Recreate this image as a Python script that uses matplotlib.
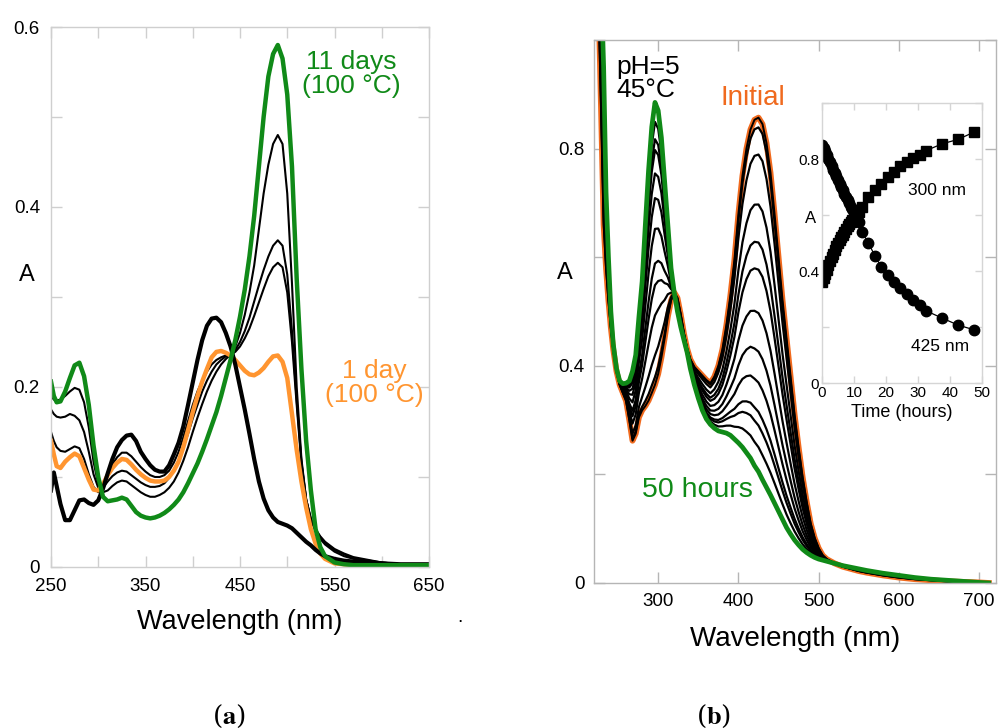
import numpy as np
import matplotlib
matplotlib.use('Agg')
import matplotlib.pyplot as plt

plt.rcParams['font.family'] = ['Liberation Sans', 'DejaVu Sans']
plt.rcParams['mathtext.fontset'] = 'stix'

# ---- panel (a): spectra after heating at 100 C ----
wl_a = [250, 253, 256, 260, 265, 270, 275, 280, 285, 290, 295, 300, 305, 310, 315, 320, 325, 330, 335, 340,
        345, 350, 355, 360, 365, 370, 375, 380, 385, 390, 395, 400, 405, 410, 415, 420, 425, 430, 435, 440,
        445, 450, 455, 460, 465, 470, 475, 480, 485, 490, 495, 500, 505, 510, 515, 520, 525, 530, 535, 540,
        550, 560, 570, 580, 600, 620, 650]
a_start = [0.085, 0.105, 0.09, 0.07, 0.052, 0.052, 0.063, 0.074, 0.075, 0.071, 0.069, 0.074, 0.087, 0.104, 0.12, 0.133, 0.141, 0.146, 0.147, 0.14,
           0.128, 0.12, 0.113, 0.108, 0.106, 0.106, 0.113, 0.125, 0.138, 0.156, 0.18, 0.205, 0.23, 0.252, 0.268, 0.276, 0.277, 0.272, 0.26, 0.245,
           0.225, 0.2, 0.175, 0.148, 0.12, 0.095, 0.076, 0.063, 0.055, 0.05, 0.048, 0.046, 0.043, 0.038, 0.033, 0.028, 0.024, 0.019, 0.015, 0.012,
           0.009, 0.007, 0.006, 0.005, 0.004, 0.003, 0.003]
a_1day = [0.14, 0.125, 0.112, 0.11, 0.117, 0.122, 0.126, 0.123, 0.11, 0.097, 0.086, 0.085, 0.092, 0.102, 0.11, 0.116, 0.12, 0.119, 0.114, 0.108,
          0.103, 0.099, 0.096, 0.095, 0.095, 0.096, 0.1, 0.107, 0.117, 0.133, 0.152, 0.172, 0.19, 0.206, 0.22, 0.233, 0.239, 0.24, 0.238, 0.235,
          0.23, 0.224, 0.218, 0.214, 0.213, 0.216, 0.221, 0.228, 0.234, 0.235, 0.228, 0.21, 0.17, 0.13, 0.095, 0.066, 0.042, 0.026, 0.015, 0.009,
          0.004, 0.003, 0.002, 0.002, 0.002, 0.002, 0.002]
a_t1 = [0.19, 0.186, 0.185, 0.186, 0.19, 0.195, 0.199, 0.197, 0.183, 0.155, 0.117, 0.092, 0.083, 0.085, 0.09, 0.094, 0.096, 0.095, 0.091, 0.087,
        0.083, 0.08, 0.078, 0.078, 0.08, 0.083, 0.088, 0.095, 0.105, 0.118, 0.133, 0.15, 0.166, 0.181, 0.195, 0.207, 0.217, 0.225, 0.231, 0.236,
        0.245, 0.26, 0.28, 0.305, 0.335, 0.375, 0.415, 0.447, 0.47, 0.48, 0.47, 0.415, 0.315, 0.2, 0.12, 0.075, 0.052, 0.04, 0.031, 0.025,
        0.017, 0.012, 0.009, 0.007, 0.004, 0.003, 0.002]
a_t2 = [0.175, 0.17, 0.167, 0.166, 0.167, 0.17, 0.168, 0.163, 0.15, 0.128, 0.103, 0.088, 0.088, 0.095, 0.101, 0.105, 0.107, 0.106, 0.102, 0.098,
        0.094, 0.091, 0.089, 0.089, 0.09, 0.093, 0.099, 0.107, 0.118, 0.132, 0.148, 0.165, 0.18, 0.195, 0.207, 0.217, 0.225, 0.23, 0.234, 0.236,
        0.241, 0.25, 0.262, 0.277, 0.295, 0.313, 0.33, 0.345, 0.357, 0.363, 0.357, 0.325, 0.262, 0.185, 0.117, 0.075, 0.053, 0.041, 0.033, 0.027,
        0.019, 0.014, 0.01, 0.008, 0.005, 0.003, 0.002]
a_t3 = [0.15, 0.14, 0.133, 0.129, 0.128, 0.131, 0.134, 0.132, 0.12, 0.103, 0.089, 0.083, 0.09, 0.102, 0.114, 0.122, 0.127, 0.127, 0.123, 0.117,
        0.111, 0.106, 0.102, 0.1, 0.1, 0.102, 0.107, 0.116, 0.128, 0.144, 0.162, 0.18, 0.195, 0.207, 0.217, 0.225, 0.23, 0.233, 0.235, 0.236,
        0.239, 0.245, 0.254, 0.265, 0.279, 0.294, 0.309, 0.323, 0.333, 0.338, 0.333, 0.305, 0.25, 0.18, 0.115, 0.075, 0.054, 0.042, 0.034, 0.028,
        0.02, 0.015, 0.011, 0.009, 0.005, 0.003, 0.002]
a_11days = [0.206, 0.19, 0.183, 0.184, 0.195, 0.21, 0.224, 0.227, 0.212, 0.18, 0.135, 0.1, 0.078, 0.073, 0.074, 0.075, 0.077, 0.075, 0.068, 0.061,
            0.057, 0.055, 0.054, 0.055, 0.057, 0.06, 0.064, 0.069, 0.075, 0.083, 0.093, 0.104, 0.115, 0.128, 0.142, 0.157, 0.172, 0.19, 0.21, 0.23,
            0.252, 0.278, 0.308, 0.345, 0.39, 0.445, 0.5, 0.545, 0.57, 0.58, 0.565, 0.525, 0.445, 0.32, 0.22, 0.14, 0.085, 0.042, 0.022, 0.012,
            0.005, 0.003, 0.002, 0.002, 0.002, 0.002, 0.002]

# ---- panel (b): pH 5, 45 C ----
wl_b = [226, 229, 232, 235, 238, 241, 244, 248, 252, 256, 260, 264, 268, 272, 276, 280, 284, 288, 292, 296,
        300, 304, 308, 312, 316, 320, 324, 328, 332, 336, 340, 345, 350, 355, 360, 365, 370, 375, 380, 385,
        390, 395, 400, 405, 410, 415, 420, 425, 430, 435, 440, 445, 450, 455, 460, 465, 470, 475, 480, 485,
        490, 495, 500, 505, 510, 520, 530, 540, 550, 560, 580, 600, 620, 640, 660, 680, 700, 712]
b_initial = [1.05, 0.86, 0.66, 0.58, 0.52, 0.47, 0.43, 0.39, 0.365, 0.35, 0.335, 0.3, 0.262, 0.275, 0.305, 0.318, 0.326, 0.336, 0.35, 0.365,
             0.385, 0.415, 0.45, 0.49, 0.52, 0.535, 0.525, 0.495, 0.46, 0.432, 0.412, 0.398, 0.39, 0.382, 0.374, 0.368, 0.38, 0.4, 0.43, 0.475,
             0.53, 0.595, 0.68, 0.75, 0.8, 0.835, 0.853, 0.857, 0.845, 0.81, 0.755, 0.68, 0.6, 0.52, 0.45, 0.38, 0.31, 0.25, 0.195, 0.15,
             0.11, 0.083, 0.064, 0.051, 0.044, 0.036, 0.03, 0.026, 0.022, 0.019, 0.014, 0.01, 0.007, 0.005, 0.003, 0.002, 0.001, 0.0]
b_50h = [1.3, 1.1, 0.95, 0.72, 0.6, 0.5, 0.44, 0.395, 0.372, 0.367, 0.368, 0.372, 0.39, 0.42, 0.49, 0.555, 0.66, 0.76, 0.84, 0.885,
         0.87, 0.82, 0.74, 0.66, 0.58, 0.535, 0.5, 0.472, 0.448, 0.425, 0.395, 0.365, 0.34, 0.318, 0.302, 0.292, 0.285, 0.28, 0.278, 0.276,
         0.272, 0.265, 0.258, 0.25, 0.24, 0.23, 0.216, 0.205, 0.19, 0.176, 0.162, 0.147, 0.132, 0.117, 0.102, 0.09, 0.079, 0.07, 0.062, 0.056,
         0.051, 0.047, 0.044, 0.042, 0.04, 0.036, 0.032, 0.029, 0.026, 0.023, 0.018, 0.014, 0.01, 0.007, 0.005, 0.003, 0.001, 0.0]
# 425 nm heights of the intermediate spectra
b_peak425 = [0.839, 0.789, 0.697, 0.627, 0.577, 0.497, 0.426, 0.369, 0.315, 0.29, 0.25]

# ---- inset: kinetics ----
t_kin = [0, 0.5, 1, 1.5, 2, 2.5, 3, 3.5, 4, 4.5, 5, 5.5, 6, 6.5, 7, 7.5, 8, 8.5, 9, 9.5, 10, 10.5, 11, 11.5,
         12.5, 14.5, 16.5, 18.5, 20.5, 22.5, 24.5, 26.5, 28.5, 30.5, 32.5, 37.5, 42.5, 47.5]
A300 = [0.36, 0.375, 0.39, 0.405, 0.42, 0.435, 0.45, 0.462, 0.475, 0.488, 0.5, 0.51, 0.52, 0.53, 0.54, 0.55, 0.56, 0.568, 0.575, 0.583, 0.59, 0.598, 0.605, 0.612,
        0.63, 0.665, 0.69, 0.71, 0.735, 0.755, 0.775, 0.79, 0.805, 0.815, 0.83, 0.854, 0.87, 0.896]
A425 = [0.85, 0.84, 0.83, 0.815, 0.8, 0.788, 0.775, 0.762, 0.75, 0.738, 0.725, 0.712, 0.7, 0.688, 0.675, 0.665, 0.655, 0.642, 0.63, 0.62, 0.61, 0.6, 0.59, 0.575,
        0.54, 0.5, 0.455, 0.415, 0.385, 0.36, 0.34, 0.318, 0.298, 0.278, 0.258, 0.232, 0.207, 0.19]

green = '#108a18'
orange_a = '#ff9530'
orange_b = '#f06a1e'
frame = '#cfcfcf'


def style_axes(ax, color, size):
    for s in ax.spines.values():
        s.set_color(color)
        s.set_linewidth(1.0)
    ax.tick_params(direction='in', top=True, right=True, length=size, width=1.0,
                   color=color, labelsize=13.5, pad=8)


fig = plt.figure(figsize=(10, 7.28), dpi=100)

# panel a
ax1 = fig.add_axes([0.051, 0.2212, 0.378, 0.7417])
ax1.plot(wl_a, a_t3, color='black', lw=1.5)
ax1.plot(wl_a, a_t2, color='black', lw=1.5)
ax1.plot(wl_a, a_t1, color='black', lw=1.5)
ax1.plot(wl_a, a_1day, color=orange_a, lw=3.2)
ax1.plot(wl_a, a_start, color='black', lw=3.0)
ax1.plot(wl_a, a_11days, color=green, lw=3.2)
ax1.set_xlim(250, 650)
ax1.set_ylim(0, 0.6)
ax1.set_xticks(np.arange(250, 651, 50))
ax1.set_xticklabels(['250', '', '350', '', '450', '', '550', '', '650'])
ax1.set_yticks(np.arange(0, 0.61, 0.1))
ax1.set_yticklabels(['0', '', '0.2', '', '0.4', '', '0.6'])
style_axes(ax1, frame, 8)
ax1.set_xlabel('Wavelength (nm)', fontsize=19.5, labelpad=10)
ax1.set_ylabel('A', fontsize=17, rotation=0, labelpad=14)
ax1.yaxis.set_label_coords(-0.065, 0.52)
ax1.text(568, 0.548, '11 days\n(100 °C)', color=green, fontsize=19, ha='center', va='center', linespacing=1.0)
ax1.text(592, 0.204, '1 day\n(100 °C)', color=orange_a, fontsize=19, ha='center', va='center', linespacing=1.0)

# panel b
ax2 = fig.add_axes([0.594, 0.1992, 0.402, 0.7459])
ax2.plot(wl_b, b_initial, color=orange_b, lw=4.2)
init425 = np.interp(425, wl_b, b_initial)
end425 = np.interp(425, wl_b, b_50h)
for p in b_peak425:
    f = (init425 - p) / (init425 - end425)
    ax2.plot(wl_b, (1 - f) * np.array(b_initial) + f * np.array(b_50h), color='black', lw=1.6)
ax2.plot(wl_b, b_initial, color='black', lw=1.4)
ax2.plot(wl_b, b_50h, color=green, lw=3.4)
ax2.set_xlim(220, 721)
ax2.set_ylim(0, 1.0)
ax2.set_xticks([300, 400, 500, 600, 700])
ax2.set_yticks(np.arange(0, 1.01, 0.2))
ax2.set_yticklabels(['0', '', '0.4', '', '0.8', ''])
style_axes(ax2, '#b5b5b5', 8)
ax2.tick_params(pad=7)
ax2.set_xlabel('Wavelength (nm)', fontsize=20, labelpad=12)
ax2.set_ylabel('A', fontsize=17, rotation=0)
ax2.yaxis.set_label_coords(-0.072, 0.55)
ax2.text(248, 0.972, 'pH=5\n45°C', fontsize=19, ha='left', va='top', linespacing=0.92)
ax2.text(418, 0.894, 'Initial', color=orange_b, fontsize=20, ha='center', va='center')
ax2.text(349, 0.171, '50 hours', color=green, fontsize=20.5, ha='center', va='center')

# inset
ax3 = fig.add_axes([0.822, 0.4739, 0.160, 0.3846])
ax3.plot(t_kin, A300, color='black', lw=0.9, marker='s', ms=7.5, mec='black', mfc='black')
ax3.plot(t_kin, A425, color='black', lw=0.9, marker='o', ms=7.5, mec='black', mfc='black')
ax3.set_xlim(0, 50)
ax3.set_ylim(0, 1.0)
ax3.set_xticks([0, 10, 20, 30, 40, 50])
ax3.set_yticks(np.arange(0, 1.01, 0.2))
ax3.set_yticklabels(['0', '', '0.4', '', '0.8', ''])
style_axes(ax3, '#d5d5d5', 5)
ax3.tick_params(labelsize=11, pad=2)
ax3.set_xlabel('Time (hours)', fontsize=13, labelpad=3)
ax3.set_ylabel('A', fontsize=12, rotation=0)
ax3.yaxis.set_label_coords(-0.07, 0.56)
ax3.text(35.8, 0.689, '300 nm', fontsize=12.5, ha='center', va='center')
ax3.text(36.9, 0.13, '425 nm', fontsize=12.5, ha='center', va='center')

fig.text(0.46, 1 - 617 / 728, '.', fontsize=14, ha='center', va='center')
fig.text(0.229, 0.0165, r'($\mathbf{a}$)', fontsize=19, family='serif', ha='center', va='center')
fig.text(0.714, 0.0165, r'($\mathbf{b}$)', fontsize=19, family='serif', ha='center', va='center')

fig.savefig('out.png', dpi=100)
